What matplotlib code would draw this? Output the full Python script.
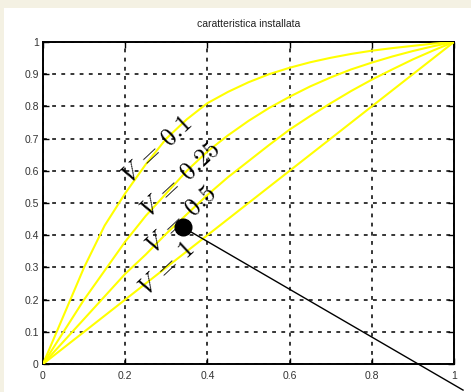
import matplotlib
matplotlib.use("Agg")
import matplotlib.pyplot as plt
from matplotlib.patches import Rectangle

# valve opening (x) and flow for each V
x = [0, 0.05, 0.1, 0.15, 0.2, 0.25, 0.3, 0.35, 0.4, 0.45, 0.5,
     0.55, 0.6, 0.65, 0.7, 0.75, 0.8, 0.85, 0.9, 0.95, 1.0]
q_v01 = [0, 0.15, 0.30, 0.43, 0.53, 0.62, 0.70, 0.76, 0.81, 0.845, 0.875,
         0.90, 0.92, 0.937, 0.951, 0.963, 0.973, 0.981, 0.988, 0.995, 1.0]
q_v025 = [0, 0.10, 0.20, 0.29, 0.38, 0.46, 0.53, 0.60, 0.66, 0.71, 0.755,
          0.795, 0.83, 0.862, 0.89, 0.915, 0.936, 0.955, 0.972, 0.987, 1.0]
q_v05 = [0, 0.07, 0.14, 0.21, 0.28, 0.34, 0.405, 0.465, 0.525, 0.58, 0.63,
         0.68, 0.728, 0.77, 0.81, 0.848, 0.883, 0.915, 0.946, 0.974, 1.0]
q_v1 = [0, 0.05, 0.1, 0.15, 0.2, 0.25, 0.3, 0.35, 0.4, 0.45, 0.5,
        0.55, 0.6, 0.65, 0.7, 0.75, 0.8, 0.85, 0.9, 0.95, 1.0]

labels = [r'$V\;=\;0.1$', r'$V\;=\;0.25$', r'$V\;=\;0.5$', r'$V\;=\;1$']
label_pos = [(0.275, 0.665), (0.333, 0.575), (0.335, 0.45), (0.30, 0.298)]

point = (0.34, 0.425)
pointer_end = (1.022, -0.081)

ticks = [0, 0.2, 0.4, 0.6, 0.8, 1]
tick_labels = ['0', '0.2', '0.4', '0.6', '0.8', '1']
yticks = [0, 0.1, 0.2, 0.3, 0.4, 0.5, 0.6, 0.7, 0.8, 0.9, 1]
ytick_labels = ['0', '0.1', '0.2', '0.3', '0.4', '0.5', '0.6', '0.7', '0.8', '0.9', '1']

plt.rcParams['mathtext.fontset'] = 'cm'

W, H = 471, 392
fig = plt.figure(figsize=(W / 100, H / 100), dpi=100)
fig.patch.set_facecolor('#f4f1e3')
# white slide panel
fig.patches.append(Rectangle((4 / W, 0), 1, 1 - 8 / H, transform=fig.transFigure,
                             facecolor='white', edgecolor='none', zorder=-1))

ax = fig.add_axes([43 / W, 1 - 364 / H, 411 / W, 322 / H])
ax.set_zorder(1)
ax.set_facecolor('white')

for q in [q_v01, q_v025, q_v05, q_v1]:
    ax.plot(x, q, color='#ffff00', lw=1.5, zorder=3)

for lab, (lx, ly) in zip(labels, label_pos):
    ax.text(lx, ly, lab, fontsize=18, rotation=43, ha='center', va='center',
            rotation_mode='anchor', color='black', zorder=4)

ax.plot([point[0], pointer_end[0]], [point[1], pointer_end[1]], color='black',
        lw=1.0, clip_on=False, zorder=5)
ax.plot(point[0], point[1], 'o', color='black', markersize=12, zorder=6)

ax.set_xlim(0, 1)
ax.set_ylim(0, 1)
ax.set_xticks(ticks)
ax.set_xticklabels(tick_labels)
ax.set_yticks(yticks)
ax.set_yticklabels(ytick_labels)
ax.grid(True, color='black', linestyle=(0, (2.5, 3.5)), lw=1.1)
ax.tick_params(direction='in', top=True, right=True, length=4, width=1,
               labelsize=7.5, labelcolor='#333333', pad=3)
ax.tick_params(axis='x', pad=5)
for t in ax.get_xticklabels() + ax.get_yticklabels():
    t.set_fontfamily('Liberation Sans')
for s in ax.spines.values():
    s.set_linewidth(1.4)
ax.set_title('caratteristica installata', fontsize=7.5, family='Liberation Sans',
             color='#222222', pad=11)

fig.savefig('out.png', dpi=100, facecolor=fig.get_facecolor())
